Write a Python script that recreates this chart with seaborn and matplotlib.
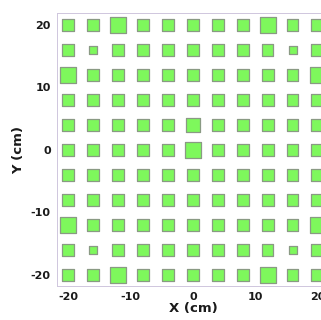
import numpy as np
import pandas as pd
import matplotlib
matplotlib.use("Agg")
import matplotlib.pyplot as plt
import seaborn as sns

# Grid positions (cm)
x_positions = [-20, -16, -12, -8, -4, 0, 4, 8, 12, 16, 20]
y_positions = [20, 16, 12, 8, 4, 0, -4, -8, -12, -16, -20]

# Relative square magnitude per grid cell (rows follow y_positions, columns x_positions)
magnitude = [
    [1.00, 1.00, 1.32, 0.92, 1.00, 1.00, 1.00, 0.92, 1.30, 0.92, 1.00],
    [1.00, 0.66, 0.92, 0.92, 1.00, 1.00, 1.00, 1.00, 0.92, 0.66, 1.00],
    [1.32, 0.92, 0.92, 0.92, 1.00, 1.00, 1.00, 1.00, 1.00, 0.92, 1.30],
    [1.00, 1.00, 1.00, 0.92, 1.00, 1.00, 1.00, 1.00, 1.00, 0.92, 1.00],
    [1.00, 1.00, 1.00, 1.00, 1.00, 1.06, 1.00, 1.00, 1.00, 0.92, 1.00],
    [1.00, 1.00, 1.00, 1.00, 1.00, 1.32, 1.00, 1.00, 1.00, 0.92, 1.00],
    [1.00, 1.00, 1.00, 1.00, 1.00, 1.00, 1.00, 1.00, 1.00, 0.92, 1.00],
    [1.00, 1.00, 1.00, 0.92, 1.00, 1.00, 1.00, 1.00, 1.00, 0.92, 1.00],
    [1.30, 0.92, 0.92, 0.92, 1.00, 1.00, 1.00, 1.00, 1.00, 0.92, 1.30],
    [1.00, 0.66, 0.92, 0.92, 1.00, 1.00, 1.00, 1.00, 0.92, 0.66, 1.00],
    [1.00, 1.00, 1.32, 0.92, 1.00, 1.00, 1.00, 1.00, 1.30, 0.92, 1.00],
]

x_ticks = [-20, -10, 0, 10, 20]
y_ticks = [-20, -10, 0, 10, 20]

rows = []
for i, yv in enumerate(y_positions):
    for j, xv in enumerate(x_positions):
        m = magnitude[i][j]
        rows.append({"x": xv, "y": yv, "area": m * m})
df = pd.DataFrame(rows)

sns.set_style("white")
plt.rcParams["font.family"] = ["DejaVu Sans"]
plt.rcParams["axes.unicode_minus"] = False

fig = plt.figure(figsize=(3.21, 3.20), dpi=100)
ax = fig.add_axes([0.1776, 0.106, 0.847, 0.853])

k = 80.0  # points^2 per unit area
lo, hi = df["area"].min(), df["area"].max()
sns.scatterplot(data=df, x="x", y="y", size="area", sizes=(lo * k, hi * k),
                size_norm=(lo, hi), marker="s", color="#7ef85c",
                edgecolor="#8a9a84", linewidth=0.9, legend=False, ax=ax,
                zorder=3)

ax.set_xlim(-21.8, 21.8)
ax.set_ylim(-21.8, 21.9)
ax.set_xticks(x_ticks)
ax.set_yticks(y_ticks)
ax.tick_params(axis="both", which="major", direction="out", length=3,
               width=0.6, color="#b8b0c8", labelsize=8, pad=1.5,
               labelcolor="#1a1a1a")
for lab in ax.get_xticklabels() + ax.get_yticklabels():
    lab.set_fontweight("bold")

ax.set_xlabel("X (cm)", fontsize=9.5, fontweight="bold", labelpad=0,
              color="#1a1a1a")
ax.set_ylabel("Y (cm)", fontsize=9.5, fontweight="bold", labelpad=4,
              color="#1a1a1a")

for side in ["left", "bottom", "top", "right"]:
    ax.spines[side].set_color("#cfc6dd")
    ax.spines[side].set_linewidth(0.7)

fig.savefig("out.png", dpi=100)
